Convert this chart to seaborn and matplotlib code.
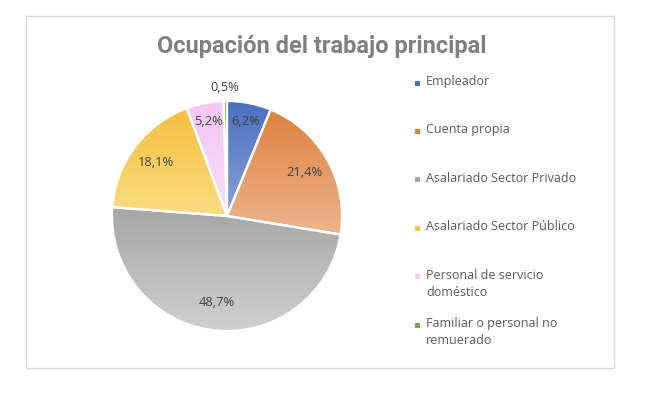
import numpy as np
import matplotlib
matplotlib.use("Agg")
import matplotlib.pyplot as plt
import matplotlib.colors as mcolors
from matplotlib.patches import Rectangle
import seaborn as sns

# ---- data ----
categories = ["Empleador", "Cuenta propia", "Asalariado Sector Privado",
              "Asalariado Sector Público", "Personal de servicio doméstico",
              "Familiar o personal no remuerado"]
legend_labels = ["Empleador", "Cuenta propia", "Asalariado Sector Privado",
                 "Asalariado Sector Público", "Personal de servicio\ndoméstico",
                 "Familiar o personal no\nremuerado"]
values = [6.2, 21.4, 48.7, 18.1, 5.2, 0.5]
title = "Ocupación del trabajo principal"

# ---- style ----
sns.set_theme(style="white")
plt.rcParams["font.family"] = ["Open Sans", "DejaVu Sans"]

base_colors = ["#4472C4", "#ED7D31", "#A5A5A5", "#F7C444", "#F4CCF8", "#70AD47"]
top_colors = ["#4A6FC0", "#DF8140", "#A6A6A6", "#F5BF40", "#F2C6F5", "#70AD47"]
bot_colors = ["#8AA3DA", "#EDB68F", "#D0D0D0", "#FADD82", "#F8DEFA", "#A9D18E"]
label_dist = [0.84, 0.77, 0.76, 0.77, 0.84, 1.12]

W, H = 658, 398
fig = plt.figure(figsize=(W / 100, H / 100), dpi=100)
fig.patch.set_facecolor("white")

# border
fig.patches.append(Rectangle((26 / W, 1 - 368 / H), (614 - 26) / W, (368 - 16) / H,
                             transform=fig.transFigure, fill=False,
                             edgecolor="#D9D9D9", linewidth=1.0))

cx, cy, r = 227, 216, 115
ax = fig.add_axes([(cx - r) / W, (H - cy - r) / H, 2 * r / W, 2 * r / H])
wedges, _ = ax.pie(values, startangle=90, counterclock=False, radius=1,
                   colors=base_colors,
                   wedgeprops=dict(edgecolor="white", linewidth=1.6))

for i, w in enumerate(wedges):
    ext = w.get_path().get_extents()
    c0 = np.array(mcolors.to_rgb(top_colors[i]))
    c1 = np.array(mcolors.to_rgb(bot_colors[i]))
    t = np.linspace(0, 1, 256)[:, None]
    grad = (c0[None, :] * (1 - t) + c1[None, :] * t)[:, None, :]
    im = ax.imshow(grad, extent=[ext.x0, ext.x1, ext.y0, ext.y1], origin="upper",
                   aspect="auto", zorder=0.5, interpolation="bilinear")
    im.set_clip_path(w)
    w.set_facecolor("none")
    w.set_zorder(2)
    # label
    theta = np.deg2rad((w.theta1 + w.theta2) / 2)
    d = label_dist[i]
    txt = f"{values[i]:.1f}".replace(".", ",") + "%"
    ax.text(d * np.cos(theta), d * np.sin(theta), txt, ha="center", va="center",
            fontsize=9.3, color="#404040", zorder=3)

ax.set_xlim(-1, 1)
ax.set_ylim(-1, 1)
ax.set_aspect("equal")
ax.axis("off")

# title
fig.text(322 / W, 1 - 46 / H, title, ha="center", va="center",
         fontsize=17, fontweight="bold", color="#7F7F7F",
         family=["Roboto", "Liberation Sans", "DejaVu Sans"])

# legend
y0, step = 83, 48.4
for i, lab in enumerate(legend_labels):
    y = y0 + step * i
    fig.patches.append(Rectangle((415 / W, 1 - (y + 2.5) / H), 5 / W, 5 / H,
                                 transform=fig.transFigure, facecolor=base_colors[i],
                                 edgecolor="none"))
    fig.text(426 / W, 1 - (y - 8) / H, lab, ha="left", va="top", fontsize=9,
             color="#595959", linespacing=1.45)

fig.savefig("out.png", dpi=100, facecolor="white")
